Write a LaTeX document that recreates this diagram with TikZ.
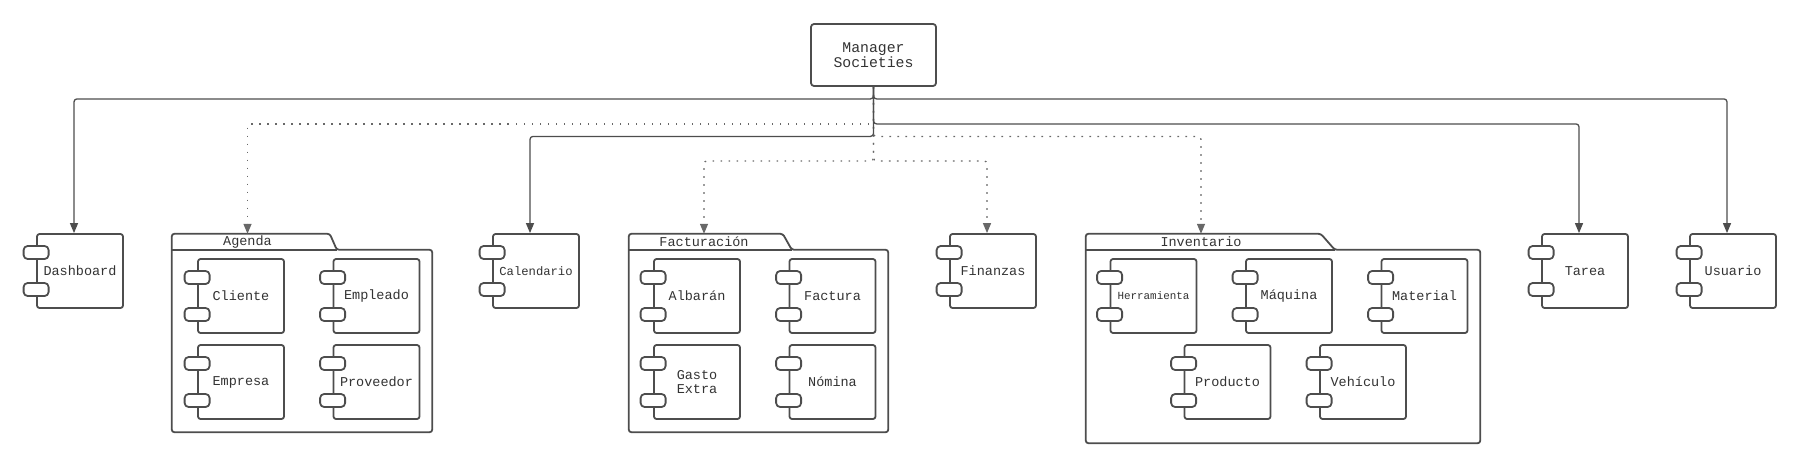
\documentclass[tikz,border=0pt]{standalone}
\usepackage{fontspec}
\setmainfont{Liberation Mono}
\usetikzlibrary{arrows.meta}
\definecolor{linec}{HTML}{4D4D4D}
\definecolor{txtc}{HTML}{333333}
\begin{document}
\begin{tikzpicture}[x=1pt, y=-1pt, line join=round, node distance=135.5pt, text=txtc, font=\fontsize{13.5}{14}\selectfont,
    comp/.style = {draw=linec, line width=1.8pt, rounded corners=2.5pt, fill=white, minimum width=86pt, minimum height=74pt, inner sep=0pt},
    port/.style = {draw=linec, line width=1.8pt, rounded corners=4pt, fill=white, minimum width=25pt, minimum height=13pt, inner sep=0pt},
    mgrbox/.style = {draw=linec, line width=1.8pt, rounded corners=3pt, minimum width=125pt, minimum height=62pt, align=center, font=\fontsize{14.8}{14.7}\selectfont},
    pkg/.style = {inner sep=0pt},
    outline/.style = {draw=linec, line width=1.8pt, rounded corners=2.5pt},
    tablbl/.style = {minimum height=16pt, inner sep=0pt},
    conn/.style = {draw=linec, line width=1.3pt, rounded corners=3pt, -{Triangle[length=10pt,width=8pt]}},
    dep/.style = {conn, draw=linec!85, dash pattern=on 1.6pt off 6.4pt}]
    \useasboundingbox (0,0) rectangle (1801,469);
    \node[mgrbox] (mgr) at (873.5,55) {Manager\\Societies};
    \node[comp] (dash) at (80,271) {Dashboard};
    \node[comp] (cal) at (536,271) {\fontsize{12.2}{14}\selectfont Calendario};
    \node[comp] (fin) at (993,271) {Finanzas};
    \node[comp] (tar) at (1585,271) {Tarea};
    \node[comp] (usu) [right of=tar, node distance=148pt] {Usuario};
    \node[pkg, minimum width=260pt, minimum height=182pt] (agenda) at (302,341) {};
    \node[tablbl] (agl) at (247.5,242) {Agenda};
    \node[comp] (cli) at (241,296) {Cliente};
    \node[comp] (emp) [right of=cli] {Empleado};
    \node[comp] (empr) [below of=cli, node distance=86pt] {Empresa};
    \node[comp] (prov) [below of=emp, node distance=86pt] {Proveedor};
    \node[pkg, minimum width=259pt, minimum height=182pt] (fact) at (758.5,341) {};
    \node[tablbl] (facl) at (704,242) {Facturación};
    \node[comp] (alb) at (697,296) {Albarán};
    \node[comp] (fac) [right of=alb] {Factura};
    \node[comp, align=center, font=\fontsize{13.5}{13.7}\selectfont] (gas) [below of=alb, node distance=86pt] {Gasto\\Extra};
    \node[comp] (nom) [below of=fac, node distance=86pt] {Nómina};
    \node[pkg, minimum width=394pt, minimum height=193pt] (inv) at (1283,346.5) {};
    \node[tablbl] (invl) at (1201,242) {Inventario};
    \node[comp] (her) at (1153.5,296) {\fontsize{10.9}{12}\selectfont Herramienta};
    \node[comp] (maq) [right of=her] {Máquina};
    \node[comp] (mat) [right of=maq] {Material};
    \node[comp] (pro) at (1227.5,382) {Producto};
    \node[comp] (veh) [right of=pro] {Vehículo};
    \foreach \c in {dash,cal,fin,tar,usu,cli,emp,empr,prov,alb,fac,gas,nom,her,maq,mat,pro,veh} {
        \node[port] (\c-a) at ([yshift=18.5pt]\c.west) {};
        \node[port] (\c-b) at ([yshift=-18.5pt]\c.west) {};
    }
    \draw[outline] (agenda.south west) -- ([yshift=16pt]agenda.north west) -- ++(158,0) -- ([xshift=165pt]agenda.north west) -| (agenda.south east) -- cycle;
    \draw[outline] (agenda.north west) -- ++(165,0);
    \draw[outline] (fact.south west) -- ([yshift=16pt]fact.north west) -- ++(154,0) -- ([xshift=163pt]fact.north west) -| (fact.south east) -- cycle;
    \draw[outline] (fact.north west) -- ++(163,0);
    \draw[outline] (inv.south west) -- ([yshift=16pt]inv.north west) -- ++(235,0) -- ([xshift=249pt]inv.north west) -| (inv.south east) -- cycle;
    \draw[outline] (inv.north west) -- ++(249,0);
    \draw[dep] (mgr.south) -- ++(0,37) -| (agl.north);
    \draw[dep] (mgr.south) -- ++(0,49.5) -| (invl.north);
    \draw[dep] (mgr.south) -- ++(0,74) -| (facl.north);
    \draw[dep] (mgr.south) -- ++(0,74) -| ([xshift=-6pt]fin.north);
    \draw[conn] (mgr.south) -- ++(0,12) -| ([xshift=-6pt]dash.north);
    \draw[conn] (mgr.south) -- ++(0,12) -| ([xshift=-6pt]usu.north);
    \draw[conn] (mgr.south) -- ++(0,37) -| ([xshift=-6pt]tar.north);
    \draw[conn] (mgr.south) -- ++(0,49.5) -| ([xshift=-6pt]cal.north);
\end{tikzpicture}
\end{document}
